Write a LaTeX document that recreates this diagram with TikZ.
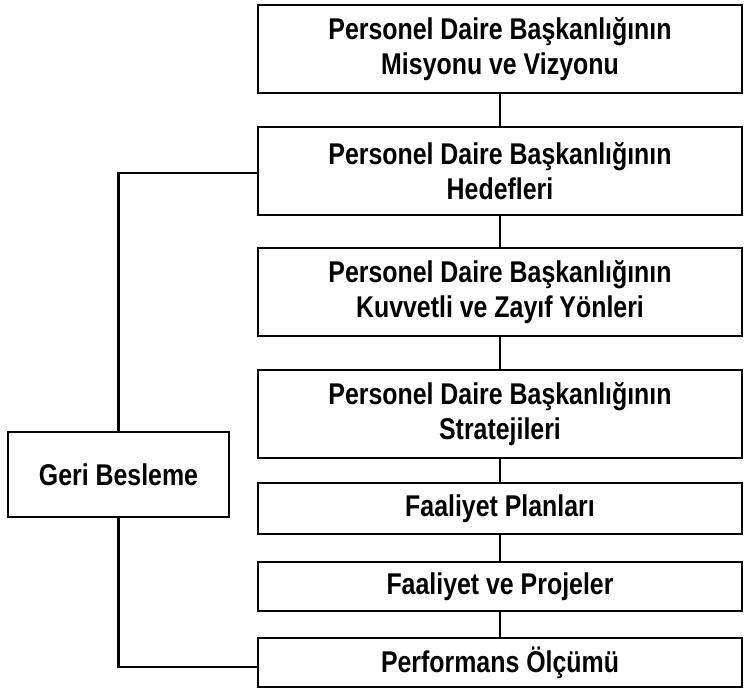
\documentclass[tikz,border=0pt]{standalone}
\usepackage{fontspec}
\setmainfont{Liberation Sans}[FakeStretch=0.83]
\begin{document}
\begin{tikzpicture}[x=1pt,y=-1pt,
  every node/.style={font=\bfseries\fontsize{30}{35}\selectfont, align=center, inner sep=0pt},
  box/.style={draw, line width=2.4pt, rectangle, minimum width=484pt},
  link/.style={draw, line width=2.4pt}]
\useasboundingbox (0,0) rectangle (754,691);
\node[box, minimum height=88pt] (b1) at (500,49) {Personel Daire Başkanlığının\\Misyonu ve Vizyonu};
\node[box, minimum height=88pt] (b2) at (500,171) {Personel Daire Başkanlığının\\Hedefleri};
\node[box, minimum height=88pt] (b3) at (500,292) {Personel Daire Başkanlığının\\Kuvvetli ve Zayıf Yönleri};
\node[box, minimum height=88pt] (b4) at (500,414) {Personel Daire Başkanlığının\\Stratejileri};
\node[box, minimum height=51pt] (b5) at (500,508.5) {Faaliyet Planları};
\node[box, minimum height=49pt] (b6) at (500,586.5) {Faaliyet ve Projeler};
\node[box, minimum height=49pt] (b7) at (500,662.5) {Performans Ölçümü};
\node[box, minimum width=221pt, minimum height=85pt] (gb) at (118.5,474.5) {Geri Besleme};
\draw[link] (b1) -- (b2);
\draw[link] (b2) -- (b3);
\draw[link] (b3) -- (b4);
\draw[link] (b4) -- (b5);
\draw[link] (b5) -- (b6);
\draw[link] (b6) -- (b7);
% feedback loop
\draw[link] (gb.north) |- ([yshift=-2pt]b2.west);
\draw[link] (gb.south) |- ([yshift=-4.5pt]b7.west);
\end{tikzpicture}
\end{document}
